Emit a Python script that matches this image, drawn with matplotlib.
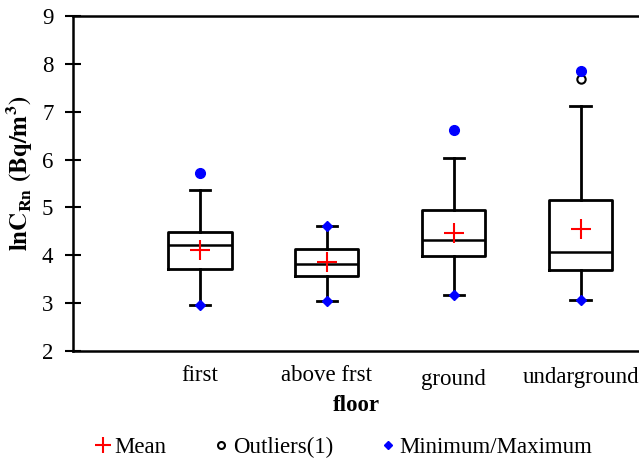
import numpy as np
import matplotlib
matplotlib.use("Agg")
import matplotlib.pyplot as plt
from matplotlib.lines import Line2D

plt.rcParams['font.family'] = ['Liberation Serif', 'DejaVu Serif']
plt.rcParams['mathtext.fontset'] = 'stix'

# values (ln of radon concentration)
floors = ["first", "above frst", "ground", "undarground"]
q1 = [3.71, 3.57, 3.98, 3.69]
med = [4.21, 3.82, 4.32, 4.07]
q3 = [4.49, 4.13, 4.95, 5.15]
whislo = [2.96, 3.04, 3.17, 3.07]
whishi = [5.36, 4.61, 6.03, 7.12]
means = [4.11, 3.86, 4.47, 4.55]
minima = [2.96, 3.04, 3.17, 3.07]
maxima = [5.72, 4.61, 6.62, 7.85]
outliers = [[], [], [], [7.68]]

FS = 16.5

fig = plt.figure(figsize=(6.39, 4.61), dpi=100)
ax = fig.add_axes([0.114, 0.239, 0.886, 0.726])

pos = np.arange(1, len(floors) + 1)
stats = []
for i in range(len(floors)):
    stats.append(dict(q1=q1[i], med=med[i], q3=q3[i], whislo=whislo[i],
                      whishi=whishi[i], fliers=[]))

ax.bxp(stats, positions=pos, widths=0.5, showfliers=False,
       boxprops=dict(color='black', linewidth=2),
       medianprops=dict(color='black', linewidth=1.8),
       whiskerprops=dict(color='black', linewidth=2),
       capprops=dict(color='black', linewidth=2), capwidths=0.16)

# mean
ax.plot(pos, means, linestyle='none', marker='+', color='red',
        markersize=14, markeredgewidth=1.5, zorder=5)

# min / max: diamond on the whisker end, circle when beyond it
for i, p in enumerate(pos):
    ax.plot(p, minima[i], marker='D', color='blue', markersize=5, linestyle='none', zorder=5)
    if maxima[i] > whishi[i]:
        ax.plot(p, maxima[i], marker='o', color='blue', markersize=7, linestyle='none', zorder=5)
    else:
        ax.plot(p, maxima[i], marker='D', color='blue', markersize=5, linestyle='none', zorder=5)
    for o in outliers[i]:
        ax.plot(p, o, marker='o', markerfacecolor='white', markeredgecolor='black',
                markersize=6, markeredgewidth=1.5, linestyle='none', zorder=4)

ax.set_xlim(0, 4.46)
ax.set_ylim(2, 9)
ax.set_yticks(range(2, 10))
ax.set_xticks(pos)
ax.set_xticklabels(floors, fontsize=FS)
ax.tick_params(axis='x', length=0, pad=10)
ax.tick_params(axis='y', direction='inout', length=12, width=1.5, labelsize=FS, pad=8)
for lab, dy in zip(ax.get_xticklabels(), [0, 0, -4, -2]):
    lab.set_y(dy / 335)

for s in ['left', 'bottom', 'top']:
    ax.spines[s].set_linewidth(1.8)
ax.spines['right'].set_visible(False)

ax.set_xlabel('floor', fontsize=FS, fontweight='bold', labelpad=4)
ax.set_ylabel(r'$\mathbf{lnC_{Rn}}$ $\mathbf{(Bq/m^{3})}$', fontsize=FS + 1.5)
ax.yaxis.set_label_coords(-0.066, 0.53)

handles = [
    Line2D([], [], linestyle='none', marker='+', color='red', markersize=12, markeredgewidth=1.5),
    Line2D([], [], linestyle='none', marker='o', markerfacecolor='white',
           markeredgecolor='black', markersize=5, markeredgewidth=1.5),
    Line2D([], [], linestyle='none', marker='D', color='blue', markersize=4),
]
fig.legend(handles, ['Mean', 'Outliers(1)', 'Minimum/Maximum'], loc='center',
           bbox_to_anchor=(0.535, 0.03), ncol=3, frameon=False, fontsize=FS,
           handletextpad=0.0, columnspacing=1.9, handlelength=1.0)

fig.savefig('out.png', dpi=100)
